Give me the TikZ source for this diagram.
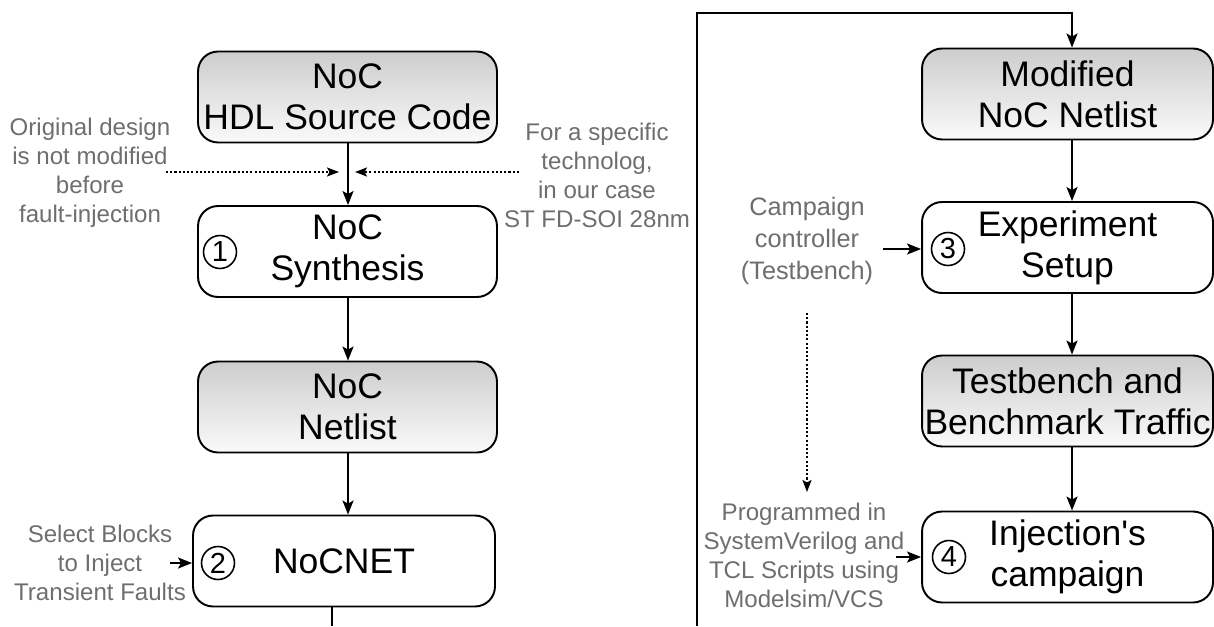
\documentclass[tikz,border=0pt]{standalone}
\usepackage{fontspec}
\setmainfont{Liberation Sans}[Ligatures=TeXOff]
\usetikzlibrary{arrows.meta}
\definecolor{lbl}{RGB}{110,110,110}
\definecolor{gtop}{RGB}{205,205,205}
\definecolor{gbot}{RGB}{250,250,250}
\tikzset{
  boxbase/.style={draw,line width=1.1pt,rounded corners=0.4cm,inner sep=0pt,align=center,
    minimum height=1.82cm,font=\fontsize{20.2}{23.3}\selectfont},
  boxL/.style={boxbase,minimum width=5.98cm},
  boxN/.style={boxbase,minimum width=6.04cm},
  boxR/.style={boxbase,minimum width=5.82cm},
  shaded/.style={top color=gtop,bottom color=gbot},
  num/.style={draw,circle,line width=0.9pt,inner sep=0pt,minimum size=0.66cm,
    font=\fontsize{16.5}{17}\selectfont},
  lab/.style={text=lbl,align=center,inner sep=0pt,font=\fontsize{13.7}{16.5}\selectfont},
  labB/.style={text=lbl,align=center,inner sep=0pt,font=\fontsize{14.4}{18.2}\selectfont},
  arr/.style={-{Stealth[length=0.28cm,width=0.22cm,inset=0.06cm]},line width=1.1pt},
  dotarr/.style={-{Stealth[length=0.24cm,width=0.18cm,inset=0.05cm]},line width=1.1pt,
    dash pattern=on 1.2pt off 1.2pt},
  plain/.style={line width=1.1pt}
}
\begin{document}
\begin{tikzpicture}[x=0.02cm,y=-0.02cm]
\useasboundingbox (0,0) rectangle (1214,626);
% left column
\node[boxL,shaded] (hdl) at (347.5,97) {NoC\\HDL Source Code};
\node[boxL] (syn) at (347.5,251.5) {NoC\\Synthesis};
\node[boxL,shaded] (net) at (347.5,407) {NoC\\Netlist};
\node[boxN] (nocnet) at (344,561) {NoCNET};
\node[num] (n1) at (220,252) {1};
\node[num] (n2) at (218,563) {2};
% right column
\node[boxR,shaded] (mod) at (1067.5,94) {Modified\\NoC Netlist};
\node[boxR] (exp) at (1067.5,247.5) {Experiment\\Setup};
\node[boxR,shaded] (tb) at (1067.5,401) {Testbench and\\Benchmark Traffic};
\node[boxR] (inj) at (1067.5,557) {Injection's\\campaign};
\node[num] (n3) at (948,249) {3};
\node[num] (n4) at (949,557) {4};
% labels
\node[lab] (orig) at (90,173) {Original design\\is not modified\\before\\fault-injection};
\node[lab] (tech) at (597,175) {For a specific\\technolog,\\in our case\\ST FD-SOI 28nm};
\node[lab] (sel) at (100,563) {Select Blocks\\to Inject\\Transient Faults};
\node[labB] (camp) at (807,241) {Campaign\\controller\\(Testbench)};
\node[lab] (prog) at (804,555) {Programmed in\\SystemVerilog and\\TCL Scripts using\\Modelsim/VCS};
% coordinates
\coordinate (lx) at (348,0);
\coordinate (rx) at (1072,0);
\coordinate (tl) at (339,172);
\coordinate (tr) at (355,172);
\coordinate (ol) at (166,172);
\coordinate (or) at (519,172);
\coordinate (sa) at (170,563);
\coordinate (ca) at (883,249);
\coordinate (pa) at (896,557);
\coordinate (dvs) at (807,313);
\coordinate (dve) at (807,492);
\coordinate (nb) at (332,626);
\coordinate (lb) at (697,626);
\coordinate (lt) at (697,13);
% connectors left
\draw[arr] (lx |- hdl.south) -- (lx |- syn.north);
\draw[arr] (lx |- syn.south) -- (lx |- net.north);
\draw[arr] (lx |- net.south) -- (lx |- nocnet.north);
\draw[plain] (nb |- nocnet.south) -- (nb);
\draw[dotarr] (ol) -- (tl);
\draw[dotarr] (or) -- (tr);
\draw[arr] (sa) -- (sa -| nocnet.west);
% connectors right
\draw[arr] (lb) -- (lt) -| (rx |- mod.north);
\draw[arr] (rx |- mod.south) -- (rx |- exp.north);
\draw[arr] (rx |- exp.south) -- (rx |- tb.north);
\draw[arr] (rx |- tb.south) -- (rx |- inj.north);
\draw[arr] (ca) -- (ca -| exp.west);
\draw[arr] (pa) -- (pa -| inj.west);
\draw[dotarr] (dvs) -- (dve);
\end{tikzpicture}
\end{document}
